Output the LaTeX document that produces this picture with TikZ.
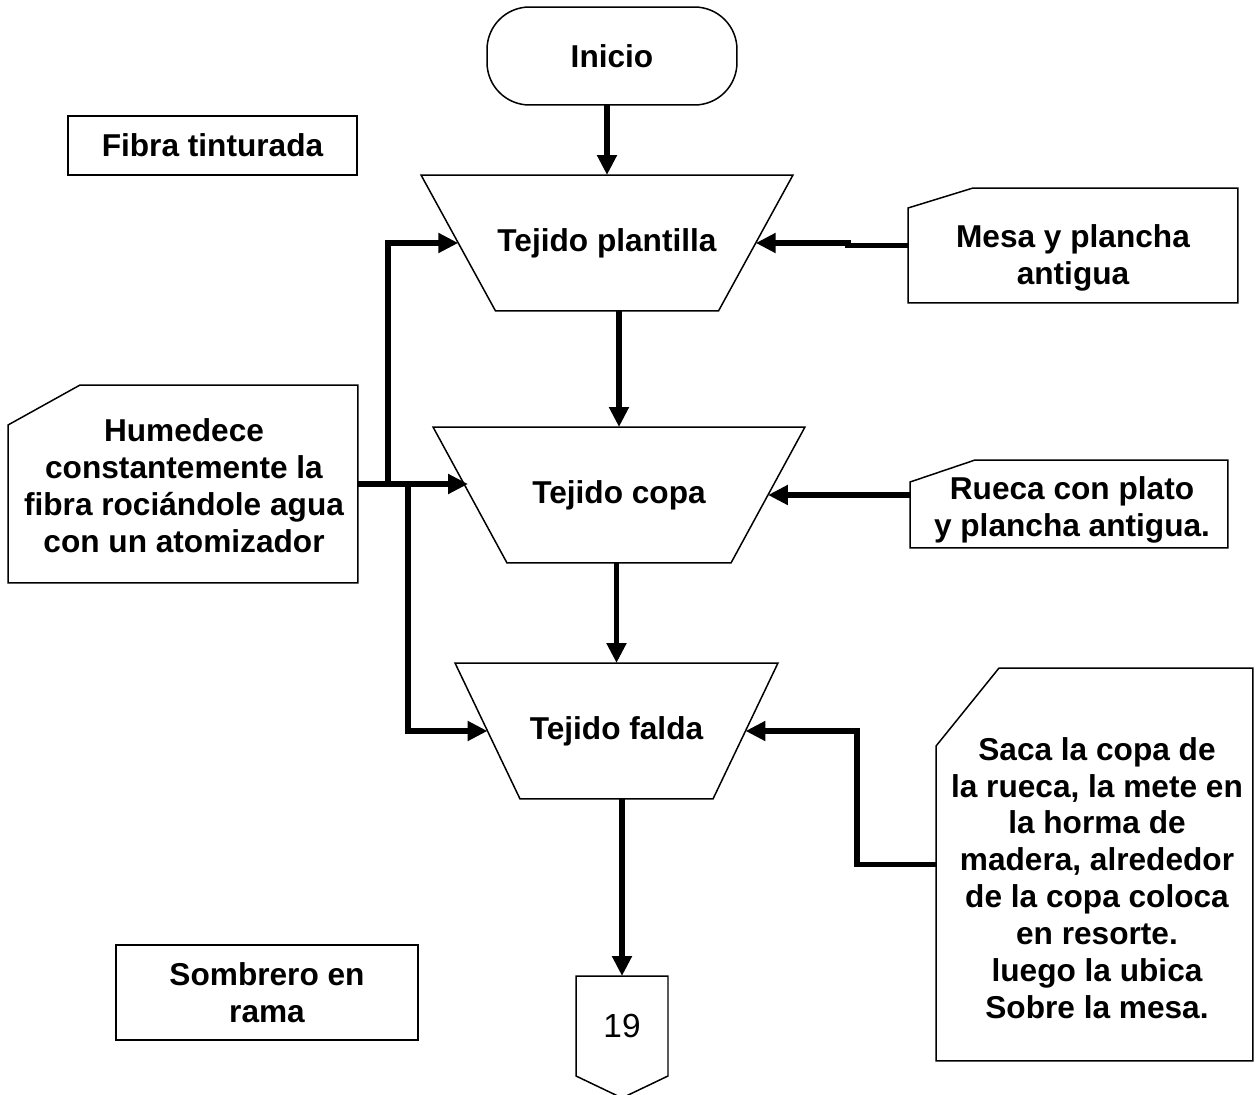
\documentclass[tikz,border=0pt]{standalone}
\usepackage{fontspec}
\setmainfont{Liberation Sans}
\usetikzlibrary{arrows.meta,calc}
\begin{document}
\begin{tikzpicture}[x=0.02cm,y=-0.02cm,
  box/.style={draw=black, line width=0.85pt, inner sep=0pt, outer sep=0pt},
  ghost/.style={inner sep=0pt, outer sep=0pt},
  txt/.style={font=\fontsize{18}{21}\selectfont\bfseries, align=center, inner sep=0pt},
  arr/.style={line width=3.2pt, -{Triangle[length=0.4cm,width=0.38cm]}},
  outline/.style={line width=0.85pt, line join=miter}]
\useasboundingbox (0,0) rectangle (1258,1095);

% terminal and plain boxes
\node[box, rounded corners=0.85cm, minimum width=5cm, minimum height=1.96cm, txt] (inicio) at (612,56) {Inicio};
\node[box, minimum width=5.78cm, minimum height=1.18cm, txt] (fibra) at (212.5,145.5) {Fibra tinturada};
\node[box, minimum width=6.04cm, minimum height=1.9cm, txt] (sombrero) at (267,992.5) {Sombrero en\\rama};

% trapezoids (manual operations)
\node[ghost, minimum width=7.44cm, minimum height=2.72cm, txt] (plantilla) at (607,243) {Tejido plantilla};
\draw[outline] (plantilla.north west) -- (plantilla.north east) -- ([xshift=-1.49cm]plantilla.south east) -- ([xshift=1.49cm]plantilla.south west) -- cycle;
\node[ghost, minimum width=7.44cm, minimum height=2.72cm, txt] (copa) at (619,495) {Tejido copa};
\draw[outline] (copa.north west) -- (copa.north east) -- ([xshift=-1.48cm]copa.south east) -- ([xshift=1.48cm]copa.south west) -- cycle;
\node[ghost, minimum width=6.46cm, minimum height=2.72cm, txt] (falda) at (616.5,731) {Tejido falda};
\draw[outline] (falda.north west) -- (falda.north east) -- ([xshift=-1.3cm]falda.south east) -- ([xshift=1.3cm]falda.south west) -- cycle;

% cards
\node[ghost, minimum width=6.6cm, minimum height=2.3cm] (mesa) at (1073,245.5) {};
\draw[outline] (mesa.south west) -- ([yshift=-0.4cm]mesa.north west) -- ([xshift=1.3cm]mesa.north west) -- (mesa.north east) -- (mesa.south east) -- cycle;
\node[txt] (mesatxt) at (1073,258) {Mesa y plancha\\antigua};

\node[ghost, minimum width=6.36cm, minimum height=1.76cm] (rueca) at (1069,504) {};
\draw[outline] (rueca.south west) -- ([yshift=-0.44cm]rueca.north west) -- ([xshift=1.3cm]rueca.north west) -- (rueca.north east) -- (rueca.south east) -- cycle;
\node[txt] (ruecatxt) at (1072,510) {Rueca con plato\\y plancha antigua.};

\node[ghost, minimum width=7cm, minimum height=3.96cm] (hum) at (183,484) {};
\draw[outline] (hum.south west) -- ([yshift=-0.8cm]hum.north west) -- ([xshift=1.44cm]hum.north west) -- (hum.north east) -- (hum.south east) -- cycle;
\node[txt] (humtxt) at (184,486) {Humedece\\constantemente la\\fibra rociándole agua\\con un atomizador};

\node[ghost, minimum width=6.34cm, minimum height=7.86cm] (saca) at (1094.5,864.5) {};
\draw[outline] (saca.south west) -- ([yshift=-1.56cm]saca.north west) -- ([xshift=1.26cm]saca.north west) -- (saca.north east) -- (saca.south east) -- cycle;
\node[txt] (sacatxt) at (1097,878) {Saca la copa de\\la rueca, la mete en\\la horma de\\madera, alrededor\\de la copa coloca\\en resorte.\\luego la ubica\\Sobre la mesa.};

% off-page connector
\node[ghost, minimum width=1.84cm, minimum height=1.94cm, font=\fontsize{19}{22}\selectfont] (c19) at (622,1026) {19};
\draw[outline] ([yshift=0.03cm]c19.north west) -- ([yshift=0.03cm]c19.north east) -- ([yshift=-0.03cm]c19.south east) -- ([yshift=-0.47cm]c19.south) -- ([yshift=-0.03cm]c19.south west) -- cycle;

% connectors
\draw[arr] (inicio.south -| plantilla.north) -- (plantilla.north);
\draw[arr] (plantilla.south -| copa.north) -- (copa.north);
\draw[arr] (copa.south -| falda.north) -- (falda.north);
\draw[arr] (falda.south -| c19.north) -- ([yshift=0.03cm]c19.north);
\draw[arr] (mesa.west) -- ++(-60,0) |- ([xshift=-0.745cm]plantilla.east);
\draw[arr] ([yshift=0.18cm]rueca.west) -- ++(-60,0) |- ([xshift=-0.74cm]copa.east);
\draw[arr] (saca.west) -- ++(-79,0) |- ([xshift=-0.65cm]falda.east);
\draw[arr] (hum.east) -- ++(30,0) |- ([xshift=0.745cm]plantilla.west);
\draw[arr] (hum.east) -- ([xshift=0.7cm,yshift=0.22cm]copa.west);
\draw[arr] (hum.east) -- ++(50,0) |- ([xshift=0.65cm]falda.west);
\end{tikzpicture}
\end{document}
